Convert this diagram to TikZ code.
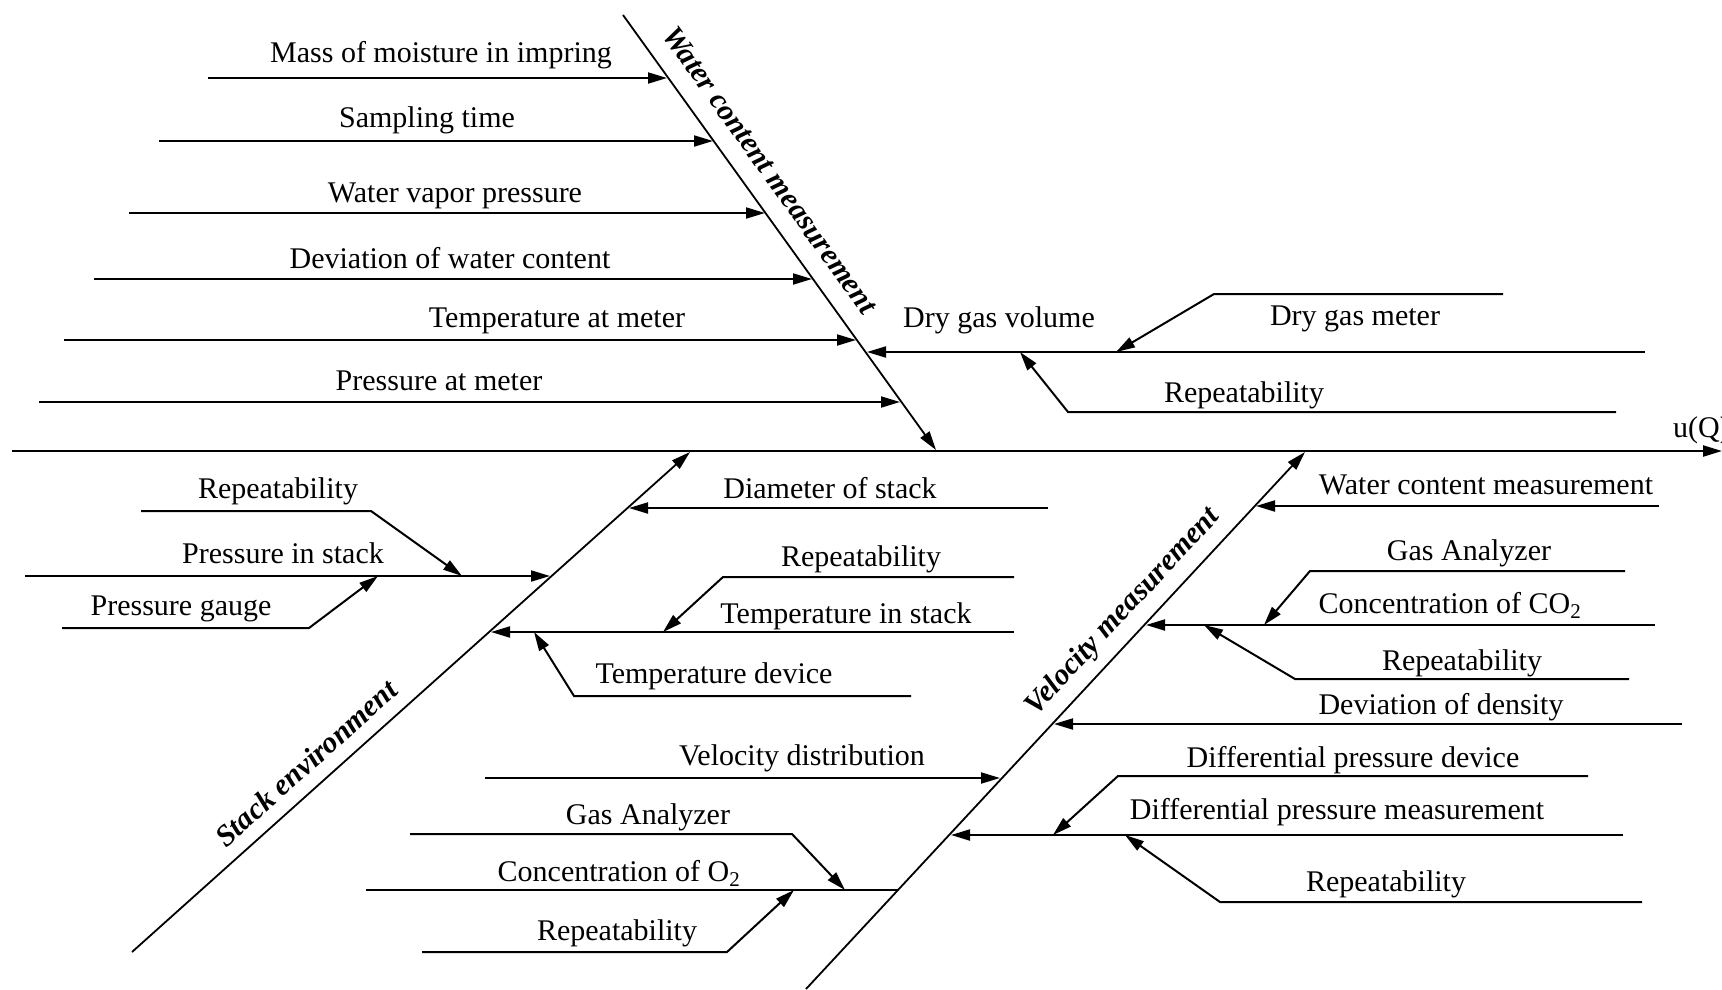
\documentclass[tikz,border=0pt]{standalone}
\usepackage{fontspec}
\setmainfont{Liberation Serif}
\usetikzlibrary{arrows.meta}
\newcommand\labfont{\fontsize{30pt}{36pt}\selectfont}
\begin{document}
\begin{tikzpicture}[x=1pt,y=-1pt,
  lab/.style={font=\labfont, anchor=base, inner sep=0pt},
  cat/.style={font=\labfont\bfseries\itshape, inner sep=0pt, anchor=center},
  bone/.style={line width=2.3pt},
  rib/.style={line width=2pt},
  diag/.style={line width=1.8pt},
  arr/.style={-{Triangle[length=19pt,width=11pt]}},
]
\useasboundingbox (0,0) rectangle (1722,989);

% ---------- spine ----------
\coordinate (sp0) at (12,451);
\coordinate (sp1) at (1722,451);
\draw[bone,arr] (sp0) -- (sp1);
\node[lab,anchor=base west] (uq) at (1673,437) {u(Q)};

% ---------- water content measurement ----------
\coordinate (w0) at (623,15);
\coordinate (w1) at (936,450);
\draw[diag,arr] (w0) -- (w1);
\node[cat,rotate=-54.3] (wcat) at (770,170) {Water content measurement};

\coordinate (a1) at (208,78);  \coordinate (a1t) at (667,78);
\coordinate (a2) at (159,141); \coordinate (a2t) at (713,141);
\coordinate (a3) at (129,213); \coordinate (a3t) at (765,213);
\coordinate (a4) at (94,279);  \coordinate (a4t) at (812,279);
\coordinate (a5) at (64,340);  \coordinate (a5t) at (856,340);
\coordinate (a6) at (39,402);  \coordinate (a6t) at (900,402);
\draw[rib,arr] (a1) -- (a1t);
\draw[rib,arr] (a2) -- (a2t);
\draw[rib,arr] (a3) -- (a3t);
\draw[rib,arr] (a4) -- (a4t);
\draw[rib,arr] (a5) -- (a5t);
\draw[rib,arr] (a6) -- (a6t);
\node[lab] (l1) at (441,62) {Mass of moisture in impring};
\node[lab] (l2) at (427,127) {Sampling time};
\node[lab] (l3) at (455,202) {Water vapor pressure};
\node[lab] (l4) at (450,268) {Deviation of water content};
\node[lab] (l5) at (557,327) {Temperature at meter};
\node[lab] (l6) at (439,390) {Pressure at meter};

% dry gas volume
\coordinate (dg0) at (1645,352); \coordinate (dgt) at (867,352);
\draw[rib,arr] (dg0) -- (dgt);
\node[lab] (ldg) at (999,327) {Dry gas volume};
\coordinate (dm0) at (1503,294); \coordinate (dm1) at (1214,294); \coordinate (dmt) at (1116,352);
\draw[rib,arr] (dm0) -- (dm1) -- (dmt);
\node[lab] (ldm) at (1355,325) {Dry gas meter};
\coordinate (dr0) at (1616,412); \coordinate (dr1) at (1068,412); \coordinate (drt) at (1020,352);
\draw[rib,arr] (dr0) -- (dr1) -- (drt);
\node[lab] (ldr) at (1244,402) {Repeatability};

% ---------- stack environment ----------
\coordinate (s0) at (132,952);
\coordinate (s1) at (690,452);
\draw[diag,arr] (s0) -- (s1);
\node[cat,rotate=41.9] (scat) at (306,763) {Stack environment};

\coordinate (ds0) at (1048,508); \coordinate (dst) at (629,508);
\draw[rib,arr] (ds0) -- (dst);
\node[lab] (lds) at (830,498) {Diameter of stack};

\coordinate (ps0) at (25,576); \coordinate (pst) at (550,576);
\draw[rib,arr] (ps0) -- (pst);
\node[lab] (lps) at (283,563) {Pressure in stack};
\coordinate (rl0) at (141,511); \coordinate (rl1) at (371,511); \coordinate (rlt) at (462,576);
\draw[rib,arr] (rl0) -- (rl1) -- (rlt);
\node[lab] (lrl) at (278,498) {Repeatability};
\coordinate (pg0) at (62,628); \coordinate (pg1) at (309,628); \coordinate (pgt) at (378,576);
\draw[rib,arr] (pg0) -- (pg1) -- (pgt);
\node[lab] (lpg) at (181,615) {Pressure gauge};

\coordinate (ts0) at (1014,632); \coordinate (tst) at (491,632);
\draw[rib,arr] (ts0) -- (tst);
\node[lab] (lts) at (846,623) {Temperature in stack};
\coordinate (rm0) at (1014,577); \coordinate (rm1) at (723,577); \coordinate (rmt) at (663,632);
\draw[rib,arr] (rm0) -- (rm1) -- (rmt);
\node[lab] (lrm) at (861,566) {Repeatability};
\coordinate (td0) at (911,696); \coordinate (td1) at (574,696); \coordinate (tdt) at (534,632);
\draw[rib,arr] (td0) -- (td1) -- (tdt);
\node[lab] (ltd) at (714,683) {Temperature device};

% ---------- velocity measurement ----------
\coordinate (v0) at (806,989);
\coordinate (v1) at (1305,452);
\draw[diag,arr] (v0) -- (v1);
\node[cat,rotate=47.1] (vcat) at (1123,612) {Velocity measurement};

\coordinate (wc0) at (1659,506); \coordinate (wct) at (1256,506);
\draw[rib,arr] (wc0) -- (wct);
\node[lab] (lwc) at (1486,494) {Water content measurement};

\coordinate (co0) at (1655,625); \coordinate (cot) at (1146,625);
\draw[rib,arr] (co0) -- (cot);
\node[lab] (lco) at (1450,613) {Concentration of CO\textsubscript{2}};
\coordinate (ga0) at (1625,571); \coordinate (ga1) at (1310,571); \coordinate (gat) at (1264,625);
\draw[rib,arr] (ga0) -- (ga1) -- (gat);
\node[lab] (lga) at (1469,560) {Gas Analyzer};
\coordinate (rc0) at (1629,679); \coordinate (rc1) at (1295,679); \coordinate (rct) at (1204,625);
\draw[rib,arr] (rc0) -- (rc1) -- (rct);
\node[lab] (lrc) at (1462,670) {Repeatability};

\coordinate (dd0) at (1682,724); \coordinate (ddt) at (1054,724);
\draw[rib,arr] (dd0) -- (ddt);
\node[lab] (ldd) at (1441,714) {Deviation of density};

\coordinate (vd0) at (485,778); \coordinate (vdt) at (1000,778);
\draw[rib,arr] (vd0) -- (vdt);
\node[lab] (lvd) at (802,765) {Velocity distribution};

\coordinate (pm0) at (1623,835); \coordinate (pmt) at (951,835);
\draw[rib,arr] (pm0) -- (pmt);
\node[lab] (lpm) at (1337,819) {Differential pressure measurement};
\coordinate (pd0) at (1588,776); \coordinate (pd1) at (1118,776); \coordinate (pdt) at (1053,835);
\draw[rib,arr] (pd0) -- (pd1) -- (pdt);
\node[lab] (lpd) at (1353,767) {Differential pressure device};
\coordinate (rb0) at (1642,902); \coordinate (rb1) at (1220,902); \coordinate (rbt) at (1125,835);
\draw[rib,arr] (rb0) -- (rb1) -- (rbt);
\node[lab] (lrb) at (1386,891) {Repeatability};

\coordinate (o0) at (366,890); \coordinate (o1) at (898,890);
\draw[rib] (o0) -- (o1);
\node[lab] (lo) at (619,881) {Concentration of O\textsubscript{2}};
\coordinate (gl0) at (410,834); \coordinate (gl1) at (792,834); \coordinate (glt) at (845,890);
\draw[rib,arr] (gl0) -- (gl1) -- (glt);
\node[lab] (lgl) at (648,824) {Gas Analyzer};
\coordinate (rl20) at (422,952); \coordinate (rl21) at (727,952); \coordinate (rl2t) at (794,890);
\draw[rib,arr] (rl20) -- (rl21) -- (rl2t);
\node[lab] (lrl2) at (617,940) {Repeatability};
\end{tikzpicture}
\end{document}
